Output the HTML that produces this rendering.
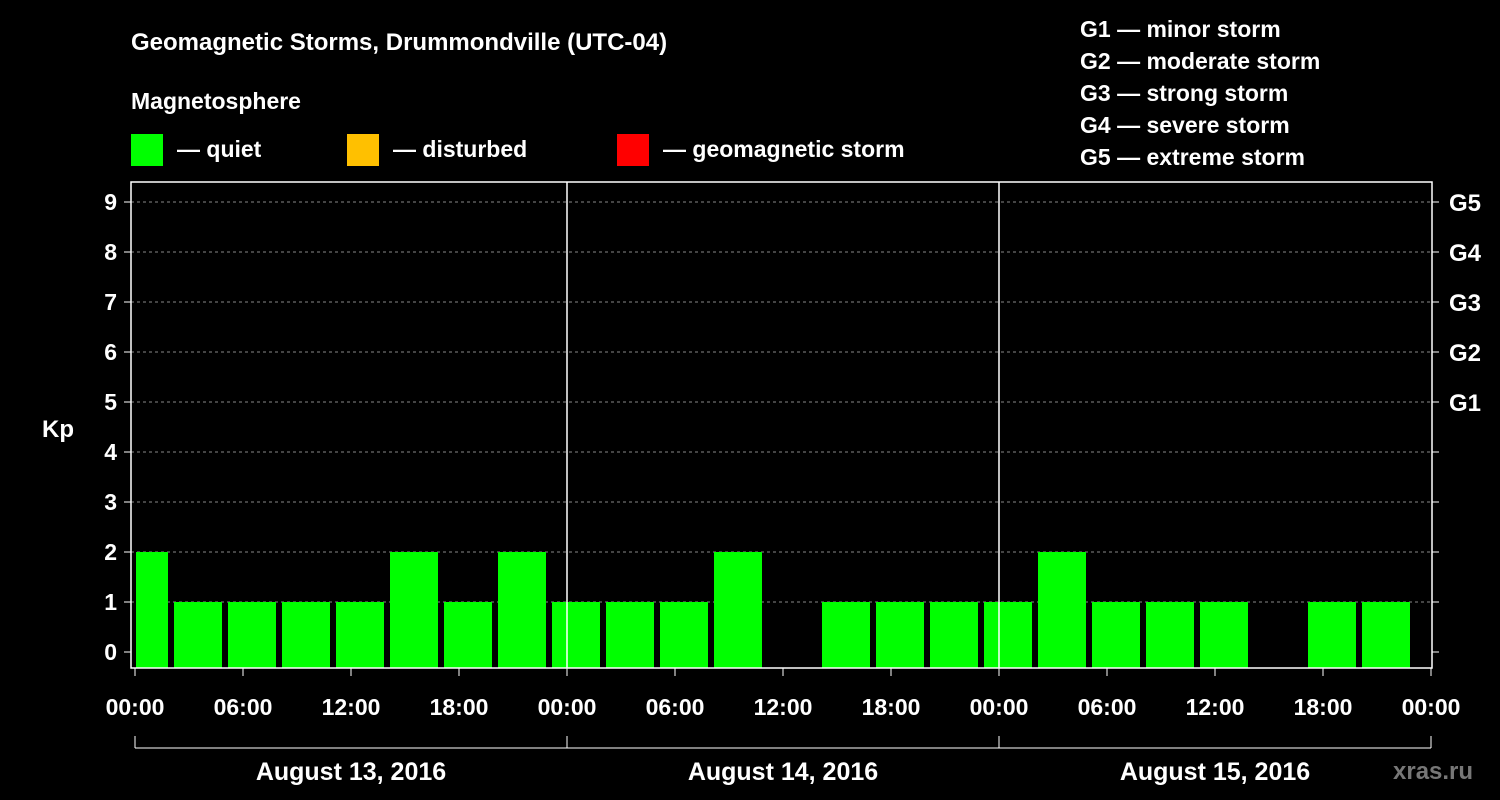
<!DOCTYPE html>
<html><head><meta charset="utf-8"><style>
body{margin:0;background:#000;width:1500px;height:800px;overflow:hidden}
svg{display:block;font-family:"Liberation Sans",Arial,sans-serif;font-weight:bold}
</style></head><body>
<svg id="c" width="1500" height="800" xmlns="http://www.w3.org/2000/svg">
<text x="131" y="50" fill="#fff" font-size="24">Geomagnetic Storms, Drummondville (UTC-04)</text>
<text x="131" y="109" fill="#fff" font-size="23">Magnetosphere</text>
<g><rect x="131" y="134" width="32" height="32" fill="#00ff00"/><text x="177" y="157" fill="#fff" font-size="23">— quiet</text></g>
<g><rect x="347" y="134" width="32" height="32" fill="#ffc000"/><text x="393" y="157" fill="#fff" font-size="23">— disturbed</text></g>
<g><rect x="617" y="134" width="32" height="32" fill="#ff0000"/><text x="663" y="157" fill="#fff" font-size="23">— geomagnetic storm</text></g>
<g fill="#fff" font-size="23">
<text x="1080" y="37">G1 — minor storm</text><text x="1080" y="69">G2 — moderate storm</text><text x="1080" y="101">G3 — strong storm</text><text x="1080" y="133">G4 — severe storm</text><text x="1080" y="165">G5 — extreme storm</text></g>
<text x="42" y="437" fill="#fff" font-size="24">Kp</text>
<text x="1393" y="779" fill="#777" font-size="24">xras.ru</text>
<g id="grid"></g><g id="bars"></g><g id="axes"></g>
</svg>
<script>
const kpValues=[2,1,1,1,1,2,1,2, 1,1,1,2,null,1,1,1, 1,2,1,1,1,null,1,1];
const yTicks=[0,1,2,3,4,5,6,7,8,9];
const gLabels=["G1","G2","G3","G4","G5"];
const xLabels=["00:00","06:00","12:00","18:00","00:00","06:00","12:00","18:00","00:00","06:00","12:00","18:00","00:00"];
const days=["August 13, 2016","August 14, 2016","August 15, 2016"];
const NS="http://www.w3.org/2000/svg";
const L=131,R=1432,T=182,B=668,X0=135,HOUR=18,UTCOFF=-4;
const y=v=>652-v*50;
const x=h=>X0+h*HOUR;
function mk(tag,attrs,parent,txt){const e=document.createElementNS(NS,tag);for(const k in attrs)e.setAttribute(k,attrs[k]);if(txt!==undefined)e.textContent=txt;parent.appendChild(e);return e;}
const grid=document.getElementById('grid'),bars=document.getElementById('bars'),axes=document.getElementById('axes');
yTicks.forEach(v=>{
 if(v>0){const l=mk('line',{x1:L,x2:R,y1:y(v),y2:y(v),stroke:'#888','stroke-dasharray':'3,3','stroke-width':1},grid);
 
 }
 const t=mk('text',{x:117,y:y(v)+8,fill:'#fff','font-size':23,'text-anchor':'end'},axes,String(v));
 
 
 mk('line',{x1:L-7,x2:L,y1:y(v),y2:y(v),stroke:'#fff'},axes);
 mk('line',{x1:R,x2:R+7,y1:y(v),y2:y(v),stroke:'#fff'},axes);
});
gLabels.forEach((g,i)=>{const t=mk('text',{x:1449,y:y(5+i)+9,fill:'#fff','font-size':24},axes,g);
 
 });
kpValues.forEach((v,i)=>{
 if(v===null)return;
 let s=x(i*3+UTCOFF+3)+3,e=x(i*3+UTCOFF+6)-3;
 s=Math.max(s,L+5);
 const c=v>=5?'#ff0000':v>=4?'#ffc000':'#00ff00';
 const r=mk('rect',{x:s,y:y(v),width:e-s,height:B-y(v),fill:c},bars);
 
 
});
mk('rect',{x:L,y:T,width:R-L,height:B-T,fill:'none',stroke:'#fff','stroke-width':1.5},axes);
[1,2].forEach(d=>mk('line',{x1:x(d*24),x2:x(d*24),y1:T,y2:B,stroke:'#fff','stroke-width':1.5},axes));
xLabels.forEach((s,i)=>{const xx=x(i*6);
 mk('line',{x1:xx,x2:xx,y1:B,y2:B+8,stroke:'#fff'},axes);
 const t=mk('text',{x:xx,y:715,fill:'#fff','font-size':23,'text-anchor':'middle'},axes,s);
 
 });
mk('line',{x1:x(0),x2:x(72),y1:748,y2:748,stroke:'#fff'},axes);
[0,1,2,3].forEach(d=>mk('line',{x1:x(d*24),x2:x(d*24),y1:736,y2:748,stroke:'#fff'},axes));
days.forEach((s,d)=>{const t=mk('text',{x:x(d*24+12),y:780,fill:'#fff','font-size':25,'text-anchor':'middle'},axes,s);
 
 });
</script>
</body></html>
